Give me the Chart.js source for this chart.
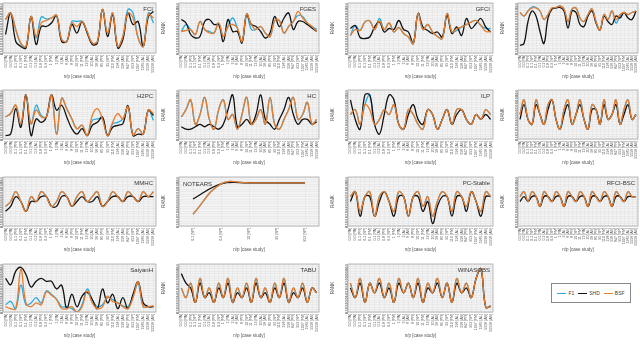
<!DOCTYPE html>
<html>
<head>
<meta charset="utf-8">
<script src="https://cdn.jsdelivr.net/npm/chart.js@4/dist/chart.umd.min.js"></script>
<style>
  html, body { margin: 0; padding: 0; background: #fff; }
  #wrap { position: relative; width: 640px; height: 357px; overflow: hidden; }
  #wrap canvas { position: absolute; }
  #legend { position: absolute; left: 551px; top: 283px; width: 78px; height: 18px; border: 1.5px solid #888;
            font: 5px "Liberation Sans", Arial, sans-serif; color: #444; display: flex; align-items: center; justify-content: center; gap: 4px; }
  #legend span.k { display: inline-block; width: 9px; height: 1.5px; vertical-align: middle; margin-right: 2px; }
</style>
</head>
<body>
<div id="wrap">
  <div id="legend">
    <span><span class="k" style="background:#29abe2"></span>F1</span>
    <span><span class="k" style="background:#111"></span>SHD</span>
    <span><span class="k" style="background:#e87b2c"></span>BSF</span>
  </div>
</div>
<script>
// x labels: n/p ratio [case study]
const labels = ['0.0 [PA]','0.0 [PA]','0.1 [PR]','0.1 [SP]','0.1 [FM]','0.1 [PA]','0.2 [AL]','0.8 [PR]','0.9 [SP]','1 [FM]',
  '1 [PA]','2 [AL]','6 [AS]','8 [PR]','10 [SP]','11 [FM]','13 [PA]','20 [AL]','56 [AS]','85 [PR]',
  '95 [SP]','110 [FM]','196 [AL]','556 [AS]','847 [PR]','953 [SP]','1097 [FM]','1965 [AL]','5556 [AS]','55556 [AS]'];
const ntLabels = ['0.1 [SP]','0.9 [SP]','10 [SP]','95 [SP]','953 [SP]'];

// values on a 0-10 rank scale (top = best)
const fciF1  = [6.7,8,4.7,1.8,1.2,7.3,3.0,7.2,6.8,7,7.5,2.7,2.3,6.3,6.3,6.3,4.3,2,2.3,8.7,4,8,1.3,3.3,8.7,8,3,1.3,8,6];
const fciSHD = [3.7,8,2.3,1.3,1,7.3,1.7,5.3,5.3,6,7.5,2.3,2.3,5.7,4,6.3,4,1.7,2,8.7,3.3,7.7,1,2.7,8,5.7,6.3,1.3,7.3,8.3];
const fciBSF = [6.7,8,4.7,2,1.3,7.3,3.3,6,6.5,7,7.5,2.7,2.3,6,5.3,6.3,4.3,2,2.3,8.7,4,8,1.3,3.3,8,7,3,1.3,7.7,7];

const fgesF1  = [4.3,5.7,4.7,3.7,6.3,4.7,4.3,4,6,3.3,5.3,7,5,2.3,7.8,4.7,4.7,5.3,4,3.3,6.5,6.5,4,5.3,6.3,7.5,7.3,6,5.3,4.7];
const fgesSHD = [6.7,6,3.7,3,3.3,6.3,6.7,5.7,5.7,2.3,6.7,4.3,4.3,2,7.7,5.7,5.3,4.3,3,4,7.3,5.3,7,8,4.7,6.3,6.3,5.7,5,4.3];
const fgesBSF = [4.3,4.5,4.7,3.7,6.3,4.7,4,4,6,3.3,5.3,5.7,5,2.3,7.8,5.7,4.7,5.3,4,3.3,6.5,6.5,4,5.3,6.3,8.3,7,6,5.3,4.3];

const gfciF1  = [3.5,5.5,4.5,6.2,6.4,4.7,6.9,4.7,6,4.2,5.1,3.9,3.2,1.9,7.9,4.7,5.7,4.2,3.3,2.9,7.9,4.2,4.5,5.2,5.7,6.2,6.5,5.5,4.9,4.9];
const gfciSHD = [4.9,5.5,3.1,2.9,3.2,5.2,6.2,4.2,4.9,4.7,6.5,4.7,4.2,1.9,7.9,5.2,4.5,3.9,4.2,3.2,7.5,3.9,5.2,3.5,6.9,4.9,5.9,6.9,5.2,4.2];
const gfciBSF = [3.5,4.7,4.5,6.2,6.4,4.7,6.4,4.7,6,4.2,5.1,3.9,3.2,1.9,7.9,4.7,5.7,4.2,3.3,2.9,7.9,4.2,4.9,5.2,5.7,6.2,6.5,5.5,4.3,4.3];

const gsF1  = [8.1,7.4,8.4,9.2,9.1,8.4,6.7,7.7,9,9.1,9.4,8.8,6.3,8.8,9,7,6.3,7.7,8.8,6.3,4.6,7.7,6.7,8.4,6,7.4,8.1,7.7,8.1,8.4];
const gsSHD = [1.5,1.9,6.3,8.4,7.4,4.3,1.9,7,8.8,9,9.1,8.4,5,8.4,8.1,5.7,5.3,7.4,8.4,6,4.6,7.4,6.3,5.7,7.4,7,8.1,7,6.7,8.4];
const gsBSF = [8.1,7.4,8.4,9,9,8.4,6.7,7.7,9,9.1,9.4,8.8,6.3,8.8,9,7,6.3,7.7,8.8,6.3,4.6,7.7,6.7,8.4,6.7,7.7,8.1,7.7,8.1,8.4];

const h2pcF1  = [4.5,5.2,6.9,3.1,9,3.1,6.9,4.8,4.5,9,1,8.3,6.2,4.1,2.1,2.8,0.7,3.8,4.1,4.1,0.7,3.1,3.4,4.1,6.6,0.8,2.1,1,5.9,3.8];
const h2pcSHD = [0.7,1,6.2,2.4,9,0.7,4.1,3.4,4.5,9,5.9,6.9,4.5,2.1,1,2.1,0.7,2.8,3.4,4.5,0.7,2.4,2.8,3.1,6.8,0.7,1,1,5.9,4.8];
const h2pcBSF = [4.5,5.2,6.9,3.1,9,3.1,5.9,4.5,4.5,9,1,8.3,6.2,4.1,2.1,2.8,0.7,4.8,6.2,4.1,0.7,3.4,5.2,4.1,6.6,0.8,2.1,1,5.9,5.2];

const hcF1  = [4.5,6,8,3,5,8.5,4,2,6,8,4,5,2,5,8.5,3,4,6,3,8.5,3,2,4,6,8.5,4,5,7.5,3,4];
const hcSHD = [2.5,2,2,2.5,3,2.5,3,2.5,2,3,6,9,2.5,3,4,3,5,9,4,3,2,4,6,8.5,5,3,4,4,3,3.5];
const hcBSF = [4.5,6,8,3,5,8.5,4,2,6,8,4,5,2,5,8.5,3,4,6,3,8.5,3,2,4,6,8.5,4,5,7.5,3,4];

const ilpF1  = [5,6,3,7,9,3,4,6,5,7,3,2,6,5,3,2,6,5,2,4,6,3,6,6,4,3,5,4,6,5];
const ilpSHD = [8,4,2,9,9,3,1,5,9,8,3,2,5,7,4,3,6,5,2,4,6,3,5,6,4,3,5,4,5,4];
const ilpBSF = [5,6,3,7,6,3,4,6,5,7,3,2,6,5,3,2,6,5,2,4,6,3,6,6,4,3,5,4,6,5];

const iiF1  = [5,8,4,3,8,5,3,7,8,4,2,6,8,3,5,8,4,2,7,6,3,8,4,5,8,3,6,8,4,5];
const iiSHD = [4,7,4,3,7,5,3,6,8,4,2,5,7,3,5,7,4,2,6,6,3,7,4,5,7,3,5,7,4,5];
const iiBSF = [5,8,4,3,8,5,3,7,8,4,2,6,8,3,5,8,4,2,7,6,3,8,4,5,8,3,6,8,4,5];

const mmhcF1  = [4,5,7,5,3,6,5,7,6,4,5,7,6,4,6,7,5,6,7,4,5,7,6,5,7,6,5,7,6,7];
const mmhcSHD = [3,4,6,5,3,5,5,6,6,4,4,6,6,4,5,6,5,5,6,4,5,6,6,5,6,6,5,6,6,6];
const mmhcBSF = [4,5,7,5,3,6,5,7,6,4,5,7,6,4,6,7,5,6,7,4,5,7,6,5,7,6,5,7,6,7];

const ntF1  = [2.4,8.6,8.8,8.8,8.8];
const ntSHD = [5.5,8.6,8.8,8.8,8.8];
const ntBSF = [2.4,8.6,8.8,8.8,8.8];

const pcsF1  = [6,7,3,6,7,2,6,7,5,3,7,6,2,6,7,4,6,2,5,7,6,3,7,6,4,7,5,3,7,6];
const pcsSHD = [5,7,2,6,6,2,5,7,5,2,6,6,2,6,6,3,5,0.5,4,6,6,2,6,6,3,7,5,2,6,6];
const pcsBSF = [6,7,3,6,7,2,6,7,5,3,7,6,2,6,7,4,6,2,5,7,6,3,7,6,4,7,5,3,7,6];

const rfciF1  = [6,7,5,7,6,4,7,6,5,7,6,4,7,6,5,7,6,4,7,6,5,7,6,4,7,6,5,7,6,6];
const rfciSHD = [5,6,5,6,6,4,6,6,5,6,6,4,6,6,5,6,6,4,6,6,5,6,6,4,6,6,5,6,6,6];
const rfciBSF = [6,7,5,7,6,4,7,6,5,7,6,4,7,6,5,7,6,4,7,6,5,7,6,4,7,6,5,7,6,6];

const saiF1  = [1.5,2.2,0.7,5.6,1.5,1.9,3,1.9,4.4,3.7,2.7,1.1,1.1,0.7,0,1.5,4.8,2.6,1.1,1.5,3,2.6,1.9,1.3,1.1,3.3,5.9,1.1,1.1,1.1];
const saiSHD = [7,5.7,8.5,9.3,7.8,5.2,6.4,7,6.4,6.4,4.8,5.6,0.7,3.7,1.1,3.3,4.1,2.6,0.7,4.8,1.9,3.7,0.7,3,0.7,3.7,6.3,1.9,1.1,1.1];
const saiBSF = [1.1,0.7,0.7,8.9,1.9,1.1,1.9,1.5,4.2,3.5,2.6,0.7,0.7,1.1,0,1.1,4.4,1.9,0.7,1.1,3.3,2.2,1.9,1.1,0.7,3,6.3,1.1,1.1,1.3];

const tabuF1  = [5,3,6,2,7,3,5,2,6,3,7,2,5,3,6,2,7,3,5,2,6,3,7,2,5,3,6,2,5,4];
const tabuSHD = [8,6,5,2,6,3,4,2,5,3,6,2,4,3,5,2,6,3,4,2,5,3,6,2,4,3,5,2,5,4];
const tabuBSF = [5,3,6,2,7,3,5,2,6,3,7,2,5,3,6,2,7,3,5,2,6,3,7,2,5,3,6,2,5,4];

const winF1  = [6,3,7,2,6,4,7,3,6,2,7,4,6,3,7,2,6,4,7,3,6,2,7,4,6,3,7,9,1,1.2];
const winSHD = [5,3,6,2,6,4,6,3,5,2,6,4,6,3,6,2,5,4,6,3,6,2,6,4,5,3,7,9,1,1.2];
const winBSF = [6,3,7,2,6,4,7,3,6,2,7,4,6,3,7,2,6,4,7,3,6,2,7,4,6,3,7,9,1,1.2];

// plot frames (left, right) per column and (top, bottom) per row
const cols = [[3,156],[179,319],[348,493],[518,638]];
const rows = [[3,53],[90,139],[177,226],[264,312]];

const panels = [
  {name:'FCI', c:0, r:0, f1:fciF1, shd:fciSHD, bsf:fciBSF},
  {name:'FGES', c:1, r:0, f1:fgesF1, shd:fgesSHD, bsf:fgesBSF},
  {name:'GFCI', c:2, r:0, f1:gfciF1, shd:gfciSHD, bsf:gfciBSF},
  {name:'', c:3, r:0, f1:gsF1, shd:gsSHD, bsf:gsBSF},
  {name:'H2PC', c:0, r:1, f1:h2pcF1, shd:h2pcSHD, bsf:h2pcBSF},
  {name:'HC', c:1, r:1, f1:hcF1, shd:hcSHD, bsf:hcBSF},
  {name:'ILP', c:2, r:1, f1:ilpF1, shd:ilpSHD, bsf:ilpBSF},
  {name:'', c:3, r:1, f1:iiF1, shd:iiSHD, bsf:iiBSF},
  {name:'MMHC', c:0, r:2, f1:mmhcF1, shd:mmhcSHD, bsf:mmhcBSF},
  {name:'NOTEARS', c:1, r:2, f1:ntF1, shd:ntSHD, bsf:ntBSF, lab:ntLabels, left:true},
  {name:'PC-Stable', c:2, r:2, f1:pcsF1, shd:pcsSHD, bsf:pcsBSF},
  {name:'RFCI-BSC', c:3, r:2, f1:rfciF1, shd:rfciSHD, bsf:rfciBSF},
  {name:'SaiyanH', c:0, r:3, f1:saiF1, shd:saiSHD, bsf:saiBSF},
  {name:'TABU', c:1, r:3, f1:tabuF1, shd:tabuSHD, bsf:tabuBSF},
  {name:'WINASOBS', c:2, r:3, f1:winF1, shd:winSHD, bsf:winBSF}
];

const FONT = '"Liberation Sans", Arial, sans-serif';

const framePlugin = {
  id: 'frame',
  beforeDraw(chart) {
    const a = chart.chartArea, ctx = chart.ctx;
    ctx.save();
    ctx.fillStyle = '#f3f3f3';
    ctx.fillRect(a.left, a.top, a.right - a.left, a.bottom - a.top);
    ctx.restore();
  },
  afterDraw(chart) {
    const a = chart.chartArea, ctx = chart.ctx;
    const o = chart.options.plugins.frame;
    ctx.save();
    ctx.strokeStyle = '#a8a8a8';
    ctx.lineWidth = 0.8;
    ctx.strokeRect(a.left, a.top, a.right - a.left, a.bottom - a.top);
    if (o.text) {
      ctx.font = '6px ' + FONT;
      ctx.fillStyle = '#333';
      ctx.textBaseline = 'top';
      if (o.left) { ctx.textAlign = 'left'; ctx.fillText(o.text, a.left + 4, a.top + 4); }
      else { ctx.textAlign = 'right'; ctx.fillText(o.text, a.right - 3, a.top + 3); }
    }
    ctx.restore();
  }
};

const YW = 18, XH = 26;
const wrap = document.getElementById('wrap');

panels.forEach(p => {
  const [l, r] = cols[p.c];
  const [t, b] = rows[p.r];
  const cv = document.createElement('canvas');
  const w = YW + (r - l) + 1;
  const h = 1 + (b - t) + XH;
  cv.width = w; cv.height = h;
  cv.style.width = w + 'px'; cv.style.height = h + 'px';
  cv.style.left = (l - YW) + 'px';
  cv.style.top = (t - 1) + 'px';
  wrap.appendChild(cv);

  new Chart(cv, {
    type: 'line',
    data: {
      labels: p.lab || labels,
      datasets: [
        {label: 'F1', data: p.f1, borderColor: '#29abe2', order: 2},
        {label: 'SHD', data: p.shd, borderColor: '#111111', order: 1},
        {label: 'BSF', data: p.bsf, borderColor: '#e87b2c', order: 0}
      ]
    },
    options: {
      responsive: false,
      animation: false,
      devicePixelRatio: 1,
      layout: {padding: {top: 1, right: 1, left: 0, bottom: 0}},
      elements: {
        point: {radius: 0},
        line: {borderWidth: 1.3, tension: 0.4, fill: false}
      },
      plugins: {
        legend: {display: false},
        tooltip: {enabled: false},
        frame: {text: p.name, left: !!p.left}
      },
      scales: {
        x: {
          offset: true,
          grid: {color: '#e0e0e0', lineWidth: 0.5, drawTicks: false},
          border: {display: false},
          ticks: {autoSkip: false, minRotation: 90, maxRotation: 90, padding: 2,
                  font: {size: 3.6, family: FONT}, color: '#555'},
          title: {display: true, text: 'n/p [case study]', font: {size: 4.5, family: FONT}, color: '#555', padding: 0},
          afterFit(s) { s.height = XH; s.paddingLeft = 0; s.paddingRight = 0; }
        },
        y: {
          min: 0, max: 10,
          grid: {color: '#e0e0e0', lineWidth: 0.5, drawTicks: false},
          border: {display: false},
          ticks: {stepSize: 0.5, autoSkip: false, minRotation: 90, maxRotation: 90, padding: 1,
                  font: {size: 3.2, family: FONT}, color: '#777'},
          title: {display: true, text: 'RANK', font: {size: 4.5, family: FONT}, color: '#555', padding: 0},
          afterFit(s) { s.width = YW; s.paddingTop = 0; s.paddingBottom = 0; }
        }
      }
    },
    plugins: [framePlugin]
  });
});
</script>
</body>
</html>
